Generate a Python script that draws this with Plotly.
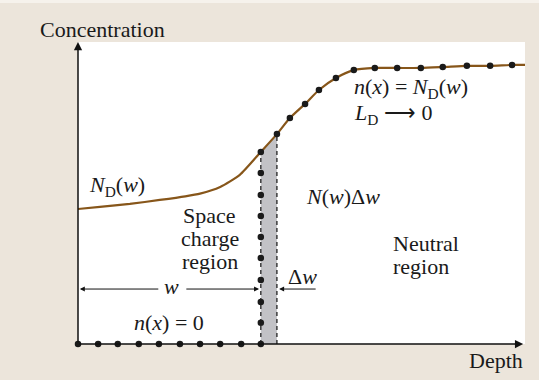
import plotly.graph_objects as go

# ---- data (depth 0..100, concentration 0..100, arbitrary units) ----
curve_depth = [0, 4.9, 11.6, 18.3, 24.0, 27.3, 31.8, 36.2, 40.9, 44.5, 47.4, 50.8, 53.9,
               57.7, 61.7, 66.4, 71.4, 76.7, 81.6, 87.0, 92.2, 97.1, 100]
curve_conc = [44.7, 45.4, 46.4, 47.7, 48.9, 49.8, 52.0, 56.0, 63.6, 69.5, 74.8, 79.5, 84.1,
              88.1, 90.7, 91.4, 91.4, 91.4, 91.7, 92.1, 92.1, 92.4, 92.4]

bottom_dot_depth = [0, 4.5, 8.9, 13.6, 18.1, 22.8, 27.3, 31.8, 36.5, 40.9]
bottom_dot_conc = [0] * 10

edge_dot_depth = [40.9] * 9
edge_dot_conc = [63.6, 56.6, 49.3, 42.4, 35.4, 28.5, 21.2, 13.9, 7.0]

curve_dot_depth = [44.5, 47.4, 50.8, 53.9, 57.7, 61.7, 66.4, 71.4, 76.7, 81.6, 87.0, 92.2, 97.1]
curve_dot_conc = [69.5, 74.8, 79.5, 84.1, 88.1, 90.7, 91.4, 91.4, 91.4, 91.7, 92.1, 92.1, 92.4]

w_edge = 40.9
dw_edge = 44.5
w_edge_conc = 63.6
dw_edge_conc = 69.5

FONT = "Liberation Serif"
FS = 22
BG = "#ECE5DB"
BROWN = "#87561A"

fig = go.Figure()

# gray slab between w and w+dw
fig.add_trace(go.Scatter(
    x=[w_edge, w_edge, 42.7, dw_edge, dw_edge],
    y=[0, w_edge_conc, 66.6, dw_edge_conc, 0],
    fill="toself", fillcolor="#C2C2C6", line=dict(width=0),
    mode="lines", hoverinfo="skip", showlegend=False))

# dashed edges
for xe, ye in [(w_edge, w_edge_conc), (dw_edge, dw_edge_conc)]:
    fig.add_trace(go.Scatter(x=[xe, xe], y=[0, ye], mode="lines",
                             line=dict(color="#222", width=1.3, dash="4px,3px"),
                             hoverinfo="skip", showlegend=False))

# N_D(w) curve
fig.add_trace(go.Scatter(x=curve_depth, y=curve_conc, mode="lines",
                         line=dict(color=BROWN, width=2.2, shape="spline", smoothing=0.6),
                         hoverinfo="skip", showlegend=False))

# dots n(x)
dot_style = dict(color="#1a1a1a", size=6.5)
for xs, ys in [(bottom_dot_depth, bottom_dot_conc), (edge_dot_depth, edge_dot_conc),
               (curve_dot_depth, curve_dot_conc)]:
    fig.add_trace(go.Scatter(x=xs, y=ys, mode="markers", marker=dot_style,
                             hoverinfo="skip", showlegend=False, cliponaxis=False))

ann = []
# axes with arrowheads
ann.append(dict(x=0, y=100, ax=0, ay=0, xref="x", yref="y", axref="x", ayref="y",
                showarrow=True, arrowhead=2, arrowsize=1.1, arrowwidth=1.5, arrowcolor="#111", text=""))
ann.append(dict(x=99.6, y=0, ax=0, ay=0, xref="x", yref="y", axref="x", ayref="y",
                showarrow=True, arrowhead=2, arrowsize=1.1, arrowwidth=1.5, arrowcolor="#111", text=""))
# w arrow (two halves around label)
ann.append(dict(x=0.4, y=18.2, ax=18.3, ay=18.2, xref="x", yref="y", axref="x", ayref="y",
                showarrow=True, arrowhead=2, arrowsize=1, arrowwidth=1, arrowcolor="#111", text=""))
ann.append(dict(x=40.5, y=18.2, ax=23.9, ay=18.2, xref="x", yref="y", axref="x", ayref="y",
                showarrow=True, arrowhead=2, arrowsize=1, arrowwidth=1, arrowcolor="#111", text=""))
# dw arrow
ann.append(dict(x=45.0, y=18.2, ax=53.5, ay=18.2, xref="x", yref="y", axref="x", ayref="y",
                showarrow=True, arrowhead=2, arrowsize=1, arrowwidth=1, arrowcolor="#111", text=""))


def txt(s, x, y, xanchor="left", ref="data"):
    r = "x" if ref == "data" else "paper"
    ry = "y" if ref == "data" else "paper"
    ann.append(dict(text=s, x=x, y=y, xref=r, yref=ry, showarrow=False,
                    xanchor=xanchor, yanchor="middle",
                    font=dict(family=FONT, size=FS, color="#1a1a1a")))


txt("Concentration", -0.0895, 1.0414, ref="paper")
txt("Depth", 1.0, -0.053, "right", ref="paper")
txt("<i>N</i><sub>D</sub>(<i>w</i>)", 2.0, 52.3)
txt("Space", 29.5, 42.4, "center")
txt("charge", 29.5, 34.8, "center")
txt("region", 29.5, 27.2, "center")
txt("<i>w</i>", 21.0, 18.9, "center")
txt("<i>n</i>(<i>x</i>) = 0", 20.4, 7.0, "center")
txt("Δ<i>w</i>", 46.6, 22.2)
txt("<i>N</i>(<i>w</i>)Δ<i>w</i>", 50.6, 49.0)
txt("Neutral", 70.0, 33.4)
txt("region", 70.0, 25.7)
txt("<i>n</i>(<i>x</i>) = <i>N</i><sub>D</sub>(<i>w</i>)", 61.3, 84.9)
txt("<i>L</i><sub>D</sub> ⟶ 0", 61.3, 76.0)

fig.update_layout(
    width=539, height=380,
    margin=dict(l=78, r=14, t=42, b=36),
    paper_bgcolor=BG, plot_bgcolor="white",
    xaxis=dict(range=[0, 100], visible=False, fixedrange=True),
    yaxis=dict(range=[0, 100], visible=False, fixedrange=True),
    annotations=ann,
    shapes=[dict(type="rect", xref="paper", yref="paper", x0=-0.2, x1=1.2,
                 y0=1.0 + 39.0 / 302, y1=1.0 + 42.0 / 302, fillcolor="#F6F2EC",
                 line=dict(width=0), layer="below")],
    showlegend=False,
)

fig.write_html(
    "out.html",
    config={"displayModeBar": False},
    post_script="document.body.style.margin='0px';document.body.style.background='%s';" % BG,
)
